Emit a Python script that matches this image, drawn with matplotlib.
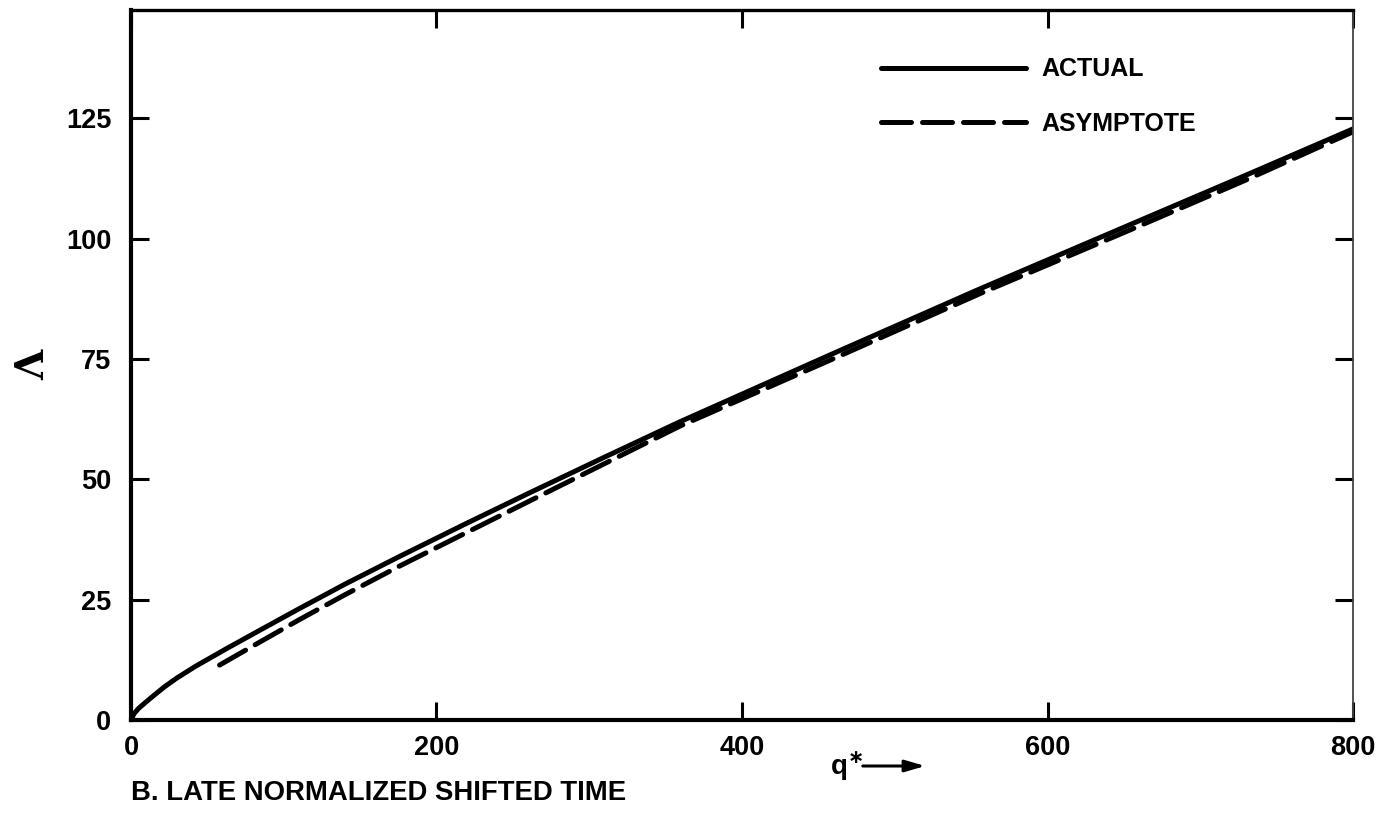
import matplotlib.pyplot as plt

q_actual = [0, 2, 5, 9, 15, 22, 30, 42, 63, 83, 110, 140, 176, 220, 261, 310, 359,
            458, 556, 654, 730, 800]
lam_actual = [0, 1.3, 2.4, 3.5, 5.1, 6.9, 8.7, 11.1, 14.9, 18.4, 23.1, 28.2, 34.0, 40.9,
              47.2, 54.6, 61.9, 75.9, 89.6, 102.9, 113.2, 122.8]

# asintota
q_asint = [58, 80, 110, 140, 176, 261, 359, 458, 556, 654, 730, 800]
lam_asint = [11.4, 15.4, 20.8, 26.0, 32.0, 45.5, 61.0, 74.8, 88.6, 101.8, 112.2, 122.2]

xticks = [0, 200, 400, 600, 800]
yticks = [0, 25, 50, 75, 100, 125]

plt.rcParams['font.family'] = ['Liberation Sans', 'DejaVu Sans']
plt.rcParams['font.weight'] = 'bold'

fig = plt.figure(figsize=(13.93, 8.15), dpi=100)
ax = fig.add_axes([0.094, 0.1166, 0.8773, 0.8711])

ax.plot(q_actual, lam_actual, color='black', lw=3.6, solid_capstyle='round',
        solid_joinstyle='round', label='ACTUAL')
ax.plot(q_asint, lam_asint, color='black', lw=3.6, dashes=(6, 2.2), dash_capstyle='round',
        label='ASYMPTOTE')

ax.set_xlim(0, 800)
ax.set_ylim(0, 147.5)

ax.set_xticks(xticks)
ax.set_yticks(yticks)
ax.tick_params(axis='both', direction='in', width=2.2, length=13, labelsize=19.5)
ax.tick_params(axis='x', pad=11, top=True)
ax.tick_params(axis='y', pad=14, right=True)

for lado in ['left', 'bottom']:
    ax.spines[lado].set_linewidth(3.0)
ax.spines['top'].set_linewidth(2.4)
ax.spines['right'].set_linewidth(1.3)
ax.spines['right'].set_color('#444444')

ax.set_ylabel('Λ', fontsize=28, rotation=90, labelpad=10,
              family=['DejaVu Serif'], fontweight='bold')

leg = ax.legend(loc='upper right', bbox_to_anchor=(0.89, 0.965), frameon=False, fontsize=18,
                handlelength=5.8, handletextpad=0.6, labelspacing=1.22)

fig.text(0.094, 0.011, 'B. LATE NORMALIZED SHIFTED TIME', fontsize=19.8, ha='left', va='bottom')

ax.annotate('', xy=(928 / 1393, 1 - 766 / 815), xycoords='figure fraction',
            xytext=(860 / 1393, 1 - 766 / 815), textcoords='figure fraction',
            arrowprops=dict(arrowstyle='-|>,head_length=1.2,head_width=0.35', color='black', lw=2.2))
fig.text(830 / 1393, 1 - 766 / 815, 'q$^{\\ast}$', fontsize=20, ha='left', va='center')

plt.savefig('out.png', dpi=100)
